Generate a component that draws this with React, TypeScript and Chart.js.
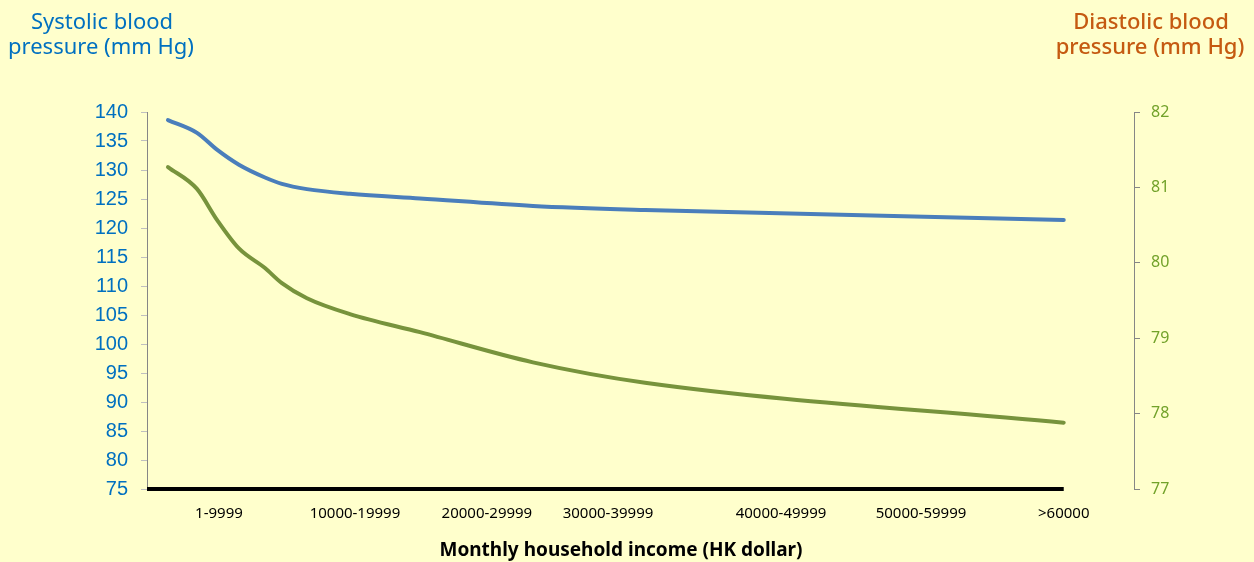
import React, { useEffect, useRef } from "react";
import { Chart, registerables } from "chart.js";

Chart.register(...registerables);

// ---- data ----
const incomeLabels = [
  "1-9999",
  "10000-19999",
  "20000-29999",
  "30000-39999",
  "40000-49999",
  "50000-59999",
  ">60000",
];
// where each income label sits along the x axis (category index units)
const labelPositions = [0, 0.966, 1.903, 2.763, 3.992, 4.986, 6.0];

// points along the curves (x in category index units)
const curveX = [-0.362, -0.156, -0.014, 0.142, 0.327, 0.447, 0.625, 0.93, 1.428, 2.23, 3.026, 6.0];
const systolic = [138.6, 136.4, 133.5, 130.9, 128.7, 127.6, 126.7, 125.9, 125.1, 123.8, 123.1, 121.4];
const diastolic = [81.27, 80.98, 80.57, 80.19, 79.93, 79.73, 79.53, 79.32, 79.08, 78.68, 78.41, 77.88];

const leftTitle = ["Systolic blood", "pressure (mm Hg)"];
const rightTitle = ["Diastolic blood", "pressure (mm Hg)"];
const xTitle = "Monthly household income (HK dollar)";

const BG = "#FFFFCC";

export default function App() {
  const ref = useRef<HTMLCanvasElement | null>(null);

  useEffect(() => {
    document.body.style.margin = "0";
    document.body.style.background = BG;
    if (!ref.current) return;

    const overlay = {
      id: "overlay",
      afterDraw(chart: any) {
        const { ctx, chartArea, scales } = chart;
        const xs = scales.x;
        const lastX = curveX[curveX.length - 1];
        ctx.save();
        // black baseline along the income axis
        ctx.strokeStyle = "#000000";
        ctx.lineWidth = 4;
        ctx.beginPath();
        ctx.moveTo(chartArea.left, chartArea.bottom);
        ctx.lineTo(xs.getPixelForValue(lastX), chartArea.bottom);
        ctx.stroke();

        ctx.textAlign = "center";
        ctx.textBaseline = "middle";
        ctx.font = '22px "Noto Sans"';
        ctx.fillStyle = "#0070C0";
        ctx.fillText(leftTitle[0], 102, 23);
        ctx.fillText(leftTitle[1], 101, 48);

        ctx.font = '500 22px "Noto Sans"';
        ctx.fillStyle = "#C55A11";
        ctx.fillText(rightTitle[0], 1151, 23);
        ctx.fillText(rightTitle[1], 1150, 48);

        ctx.font = 'bold 19px "Noto Sans"';
        ctx.fillStyle = "#000000";
        ctx.fillText(xTitle, 621, 551);
        ctx.restore();
      },
    };

    const chart = new Chart(ref.current, {
      type: "line",
      data: {
        datasets: [
          {
            label: "Systolic",
            data: curveX.map((x, i) => ({ x, y: systolic[i] })),
            borderColor: "#4A7EBB",
            borderWidth: 4,
            pointRadius: 0,
            cubicInterpolationMode: "monotone",
            borderCapStyle: "round",
            yAxisID: "y",
          },
          {
            label: "Diastolic",
            data: curveX.map((x, i) => ({ x, y: diastolic[i] })),
            borderColor: "#77933C",
            borderWidth: 4,
            pointRadius: 0,
            cubicInterpolationMode: "monotone",
            borderCapStyle: "round",
            yAxisID: "y2",
          },
        ],
      },
      options: {
        animation: false,
        responsive: false,
        devicePixelRatio: 1,
        layout: { padding: { top: 112, left: 0, right: 0, bottom: 0 } },
        plugins: {
          legend: { display: false },
          tooltip: { enabled: false },
        },
        scales: {
          x: {
            type: "linear",
            min: -0.511,
            max: 6.499,
            grid: { display: false, drawTicks: false },
            border: { display: false },
            afterBuildTicks: (s: any) => {
              s.ticks = labelPositions.map((v) => ({ value: v }));
            },
            ticks: {
              autoSkip: false,
              maxRotation: 0,
              minRotation: 0,
              padding: 16,
              color: "#000000",
              font: { family: '"Noto Sans"', size: 15 },
              callback: (v: any) => incomeLabels[labelPositions.indexOf(Number(v))] ?? "",
            },
            afterFit: (s: any) => {
              s.height = 73;
            },
          },
          y: {
            position: "left",
            min: 75,
            max: 140,
            ticks: {
              stepSize: 5,
              color: "#0070C0",
              padding: 13,
              font: { family: '"Liberation Sans", Arial', size: 20 },
            },
            grid: { drawOnChartArea: false, color: "#BFBFBF", tickLength: 6 },
            border: { color: "#868686", width: 1 },
            afterFit: (s: any) => {
              s.width = 147;
            },
          },
          y2: {
            position: "right",
            min: 77,
            max: 82,
            ticks: {
              stepSize: 1,
              color: "#72A22A",
              padding: 11,
              font: { family: '"Noto Sans"', size: 16 },
            },
            grid: { drawOnChartArea: false, color: "#868686", tickLength: 6 },
            border: { color: "#868686", width: 1 },
            afterFit: (s: any) => {
              s.width = 120;
            },
          },
        },
      } as any,
      plugins: [overlay],
    });

    return () => chart.destroy();
  }, []);

  return (
    <div style={{ position: "relative", width: 1254, height: 562, background: BG }}>
      <canvas ref={ref} width={1254} height={562} style={{ display: "block" }} />
    </div>
  );
}
